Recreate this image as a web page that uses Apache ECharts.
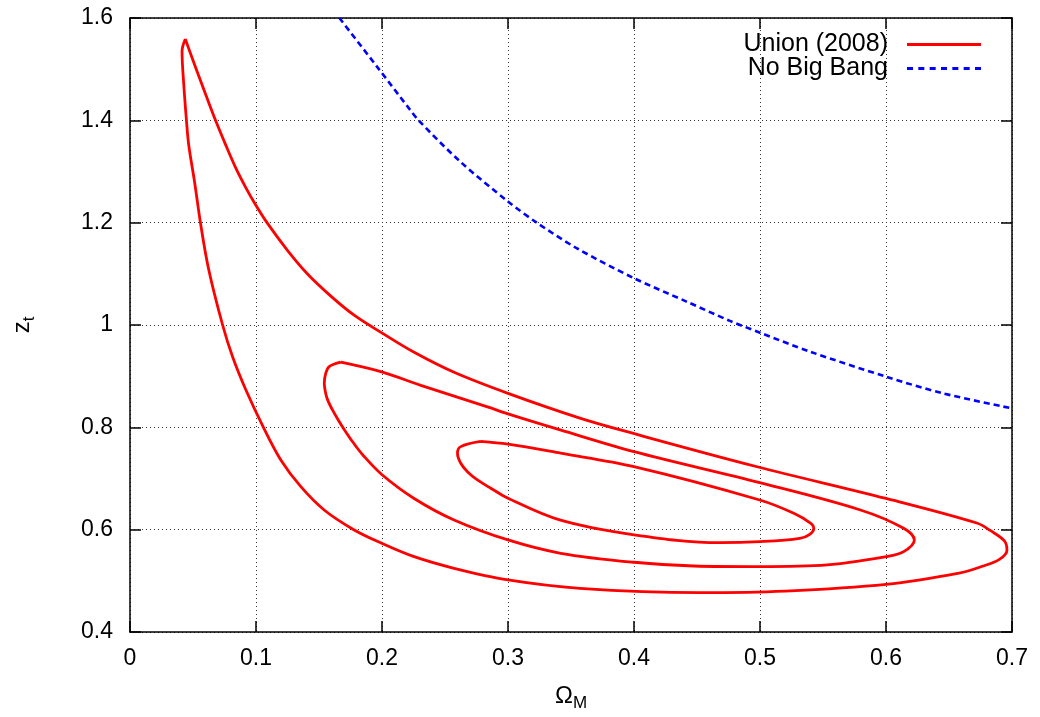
<!DOCTYPE html>
<html>
<head>
<meta charset="utf-8">
<script src="https://cdn.jsdelivr.net/npm/echarts@6/dist/echarts.min.js"></script>
<style>
html,body{margin:0;padding:0;background:#fff;}
#chart{width:1040px;height:717px;}
</style>
</head>
<body>
<div id="chart"></div>
<script>
// Data (Omega_M, z_t)
var outerContour = [
  [0.0439,1.559],[0.0484,1.528],[0.0523,1.502],[0.0603,1.449],[0.0682,1.398],[0.0761,1.351],
  [0.0841,1.306],[0.0920,1.268],[0.0999,1.234],[0.1090,1.199],[0.1251,1.1455],[0.1409,1.0997],
  [0.1594,1.0565],[0.1779,1.0192],[0.1998,0.9846],[0.2255,0.9466],[0.2572,0.9075],[0.300,0.8663],
  [0.357,0.818],[0.3995,0.788],[0.4977,0.723],[0.600,0.661],[0.672,0.613],[0.683,0.598],
  [0.694,0.578],[0.696,0.560],[0.690,0.542],[0.676,0.528],[0.658,0.515],[0.600,0.493],
  [0.520,0.480],[0.452,0.477],[0.357,0.4854],[0.300,0.5017],[0.2572,0.5245],[0.2255,0.5472],
  [0.1998,0.5734],[0.1776,0.600],[0.1541,0.6385],[0.1356,0.684],[0.1197,0.7363],[0.1059,0.800],
  [0.092,0.873],[0.0814,0.938],[0.0735,1.000],[0.0625,1.108],[0.0559,1.200],[0.0514,1.277],
  [0.0466,1.352],[0.0448,1.400],[0.0427,1.469],[0.0413,1.535],[0.0439,1.559]
];
var middleContour = [
  [0.1673,0.9273],[0.1998,0.9083],[0.2308,0.8819],[0.2837,0.8399],[0.300,0.8262],[0.3414,0.7949],
  [0.3999,0.7525],[0.4998,0.6919],[0.5797,0.6385],[0.614,0.6027],[0.6225,0.5799],[0.614,0.557],
  [0.6003,0.5472],[0.5533,0.531],[0.4998,0.5277],[0.4475,0.529],[0.3999,0.5363],[0.3418,0.5539],
  [0.300,0.5799],[0.2572,0.619],[0.2255,0.661],[0.1998,0.7079],[0.1848,0.7459],[0.1768,0.7713],
  [0.1705,0.7939],[0.1649,0.8158],[0.1607,0.834],[0.1575,0.8497],[0.1556,0.8634],[0.1542,0.8868],
  [0.1554,0.9058],[0.1581,0.9187],[0.1673,0.9273]
];
var innerContour = [
  [0.2783,0.7725],[0.300,0.767],[0.3418,0.7494],[0.3999,0.7232],[0.4998,0.658],[0.5268,0.632],
  [0.5406,0.612],[0.5427,0.603],[0.5395,0.591],[0.5315,0.583],[0.500,0.5766],[0.468,0.5746],
  [0.400,0.590],[0.341,0.619],[0.300,0.6614],[0.2863,0.681],[0.2757,0.6972],[0.2678,0.7134],
  [0.2625,0.7298],[0.2599,0.7494],[0.2625,0.7623],[0.2783,0.7725]
];
var noBigBang = [
  [0.1662,1.600],[0.196,1.505],[0.2223,1.4205],[0.229,1.400],[0.262,1.3195],
  [0.300,1.2413],[0.3228,1.200],[0.3546,1.150],[0.400,1.0915],[0.4417,1.0458],[0.4762,1.008],
  [0.500,0.985],[0.5396,0.948],[0.600,0.899],[0.645,0.8666],[0.700,0.837]
];
var seriesNames = ['Union (2008)', 'No Big Bang'];
var xTicks = {min: 0, max: 0.7, interval: 0.1};
var yTicks = {min: 0.4, max: 1.6, interval: 0.2};

var FONT = '"Liberation Sans", Arial, sans-serif';
var chart = echarts.init(document.getElementById('chart'), null, {renderer: 'canvas'});

function baseAxis(ticks, show) {
  return {
    type: 'value', min: ticks.min, max: ticks.max, interval: ticks.interval,
    axisLine: {show: true, onZero: false, lineStyle: {color: '#000', width: 1.5}},
    axisTick: {show: true, inside: true, length: 11, lineStyle: {color: '#000', width: 1.5}},
    axisLabel: {show: show, color: '#000', fontSize: 23, fontFamily: FONT, margin: 15},
    splitLine: {show: show, lineStyle: {color: '#333', type: [1, 3], width: 1}}
  };
}
var nameRich = {
  a: {fontSize: 24, fontFamily: FONT, color: '#000', verticalAlign: 'top', lineHeight: 28},
  b: {fontSize: 17, fontFamily: FONT, color: '#000', verticalAlign: 'bottom', lineHeight: 17, padding: [12, 0, 0, 0]}
};

var xBottom = baseAxis(xTicks, true);
xBottom.position = 'bottom';
xBottom.name = '{a|Ω}{b|M}';
xBottom.nameLocation = 'middle';
xBottom.nameGap = 52;
xBottom.nameTextStyle = {rich: nameRich};
var xTop = baseAxis(xTicks, false);
xTop.position = 'top';

var yLeft = baseAxis(yTicks, true);
yLeft.position = 'left';
yLeft.axisLabel.margin = 17;
yLeft.name = '{a|z}{b|t}';
yLeft.nameLocation = 'middle';
yLeft.nameGap = 92;
yLeft.nameTextStyle = {rich: nameRich};
var yRight = baseAxis(yTicks, false);
yRight.position = 'right';

var redStyle = {color: '#ff0000', width: 2.8, type: 'solid'};
function contourSeries(data) {
  return {
    name: seriesNames[0], type: 'line', data: data, xAxisIndex: 0, yAxisIndex: 0,
    showSymbol: false, symbol: 'none', smooth: 0.35, lineStyle: redStyle,
    itemStyle: {color: '#ff0000'}, z: 3, animation: false, silent: true
  };
}
var solidIcon = 'path://M0,0h74v3h-74z';
var dashIcon = 'path://M0,0h6v3h-6zM11.33,0h6v3h-6zM22.67,0h6v3h-6zM34,0h6v3h-6zM45.33,0h6v3h-6zM56.67,0h6v3h-6zM68,0h6v3h-6z';
function legendFor(name, icon, top) {
  return {
    data: [{name: name, icon: icon}], orient: 'horizontal', right: 54, top: top, align: 'right',
    itemWidth: 74, itemHeight: 3, itemGap: 0,
    textStyle: {fontSize: 25, fontFamily: FONT, color: '#000', padding: [0, 14, 0, 0]},
    selectedMode: false
  };
}

chart.setOption({
  animation: false,
  backgroundColor: '#fff',
  textStyle: {fontFamily: FONT},
  grid: {left: 130, right: 28, top: 18, bottom: 85, containLabel: false},
  legend: [legendFor(seriesNames[0], solidIcon, 27), legendFor(seriesNames[1], dashIcon, 51)],
  xAxis: [xBottom, xTop],
  yAxis: [yLeft, yRight],
  series: [
    contourSeries(outerContour),
    contourSeries(middleContour),
    contourSeries(innerContour),
    {
      name: seriesNames[1], type: 'line', data: noBigBang, showSymbol: false, symbol: 'none',
      smooth: 0.3, lineStyle: {color: '#0000ff', width: 2.6, type: [6, 4]},
      itemStyle: {color: '#0000ff'}, z: 3, animation: false, silent: true
    }
  ]
});
</script>
</body>
</html>
